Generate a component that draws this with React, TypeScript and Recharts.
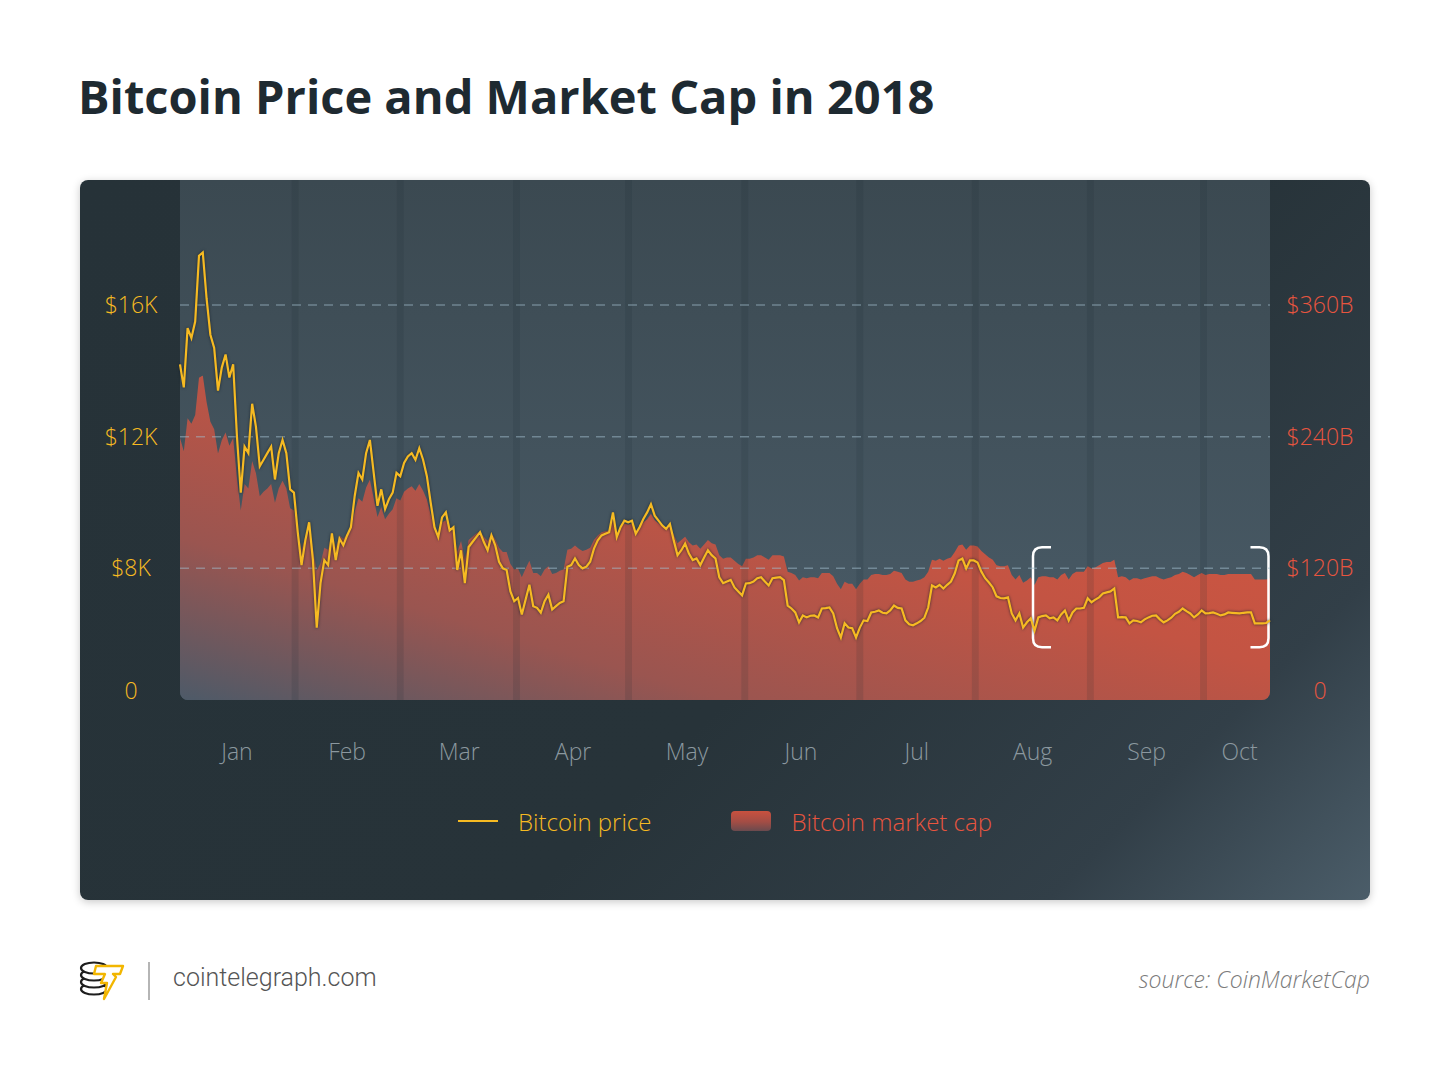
import React from 'react';
import { ComposedChart, Area, Line, XAxis, YAxis, ReferenceLine, ReferenceArea } from 'recharts';

// daily BTC price (USD), 1 Jan – 15 Oct 2018
const price = [
  14200, 13500, 15300, 15000, 15500, 17500, 17600, 16200, 15100, 14700,
  13400, 14100, 14500, 13800, 14200, 12000, 10300, 11700, 11500, 13000,
  12300, 11100, 11300, 11500, 11700, 10700, 11500, 11900, 11500, 10400,
  10300, 9100, 8100, 8850, 9400, 8250, 6200, 7550, 8250, 8100,
  9060, 8250, 8900, 8700, 9000, 9250, 10200, 10900, 10700, 11500,
  11900, 10900, 9900, 10400, 9800, 10100, 10300, 10900, 10800, 11200,
  11400, 11500, 11300, 11650, 11300, 10800, 10000, 9250, 8950, 9550,
  9700, 9150, 9250, 7950, 8550, 7550, 8650, 8800, 8950, 9100,
  8800, 8550, 9000, 8700, 8200, 8000, 7950, 7300, 7000, 7100,
  6600, 7050, 7500, 6850, 6800, 6650, 7000, 7200, 6750, 6850,
  6950, 7000, 8050, 8100, 8300, 8100, 8000, 8050, 8200, 8600,
  8850, 9000, 9050, 9100, 9700, 8950, 9250, 9450, 9400, 9450,
  9050, 9250, 9500, 9700, 9950, 9600, 9450, 9300, 9200, 9350,
  8850, 8400, 8550, 8750, 8450, 8250, 8300, 8100, 8330, 8550,
  8400, 8300, 7730, 7550, 7600, 7650, 7420, 7300, 7180, 7540,
  7550, 7600, 7700, 7730, 7600, 7480, 7700, 7720, 7730, 7640,
  6870, 6780, 6660, 6360, 6570, 6510, 6560, 6570, 6510, 6780,
  6790, 6810, 6630, 6180, 5900, 6330, 6200, 6180, 5900, 6200,
  6420, 6400, 6660, 6680, 6720, 6650, 6630, 6720, 6870, 6800,
  6780, 6420, 6300, 6270, 6330, 6400, 6500, 6810, 7480, 7420,
  7500, 7390, 7500, 7600, 7850, 8240, 8300, 8000, 8240, 8240,
  8180, 7900, 7700, 7570, 7420, 7150, 7100, 7090, 7120, 6630,
  6420, 6630, 6200, 6360, 6480, 6110, 6510, 6550, 6570, 6480,
  6510, 6420, 6600, 6720, 6420, 6660, 6780, 6780, 6800, 7090,
  6970, 7050, 7120, 7240, 7270, 7300, 7390, 6510, 6520, 6510,
  6330, 6420, 6400, 6360, 6450, 6510, 6560, 6570, 6450, 6360,
  6420, 6500, 6620, 6680, 6780, 6700, 6630, 6510, 6600, 6720,
  6630, 6640, 6660, 6620, 6570, 6600, 6660, 6650, 6640, 6630,
  6650, 6660, 6660, 6330, 6330, 6330, 6340, 6420,
];

// market cap, billions USD, same days
const marketCap = [
  239, 227, 257, 252, 260, 294, 296, 272, 254, 247,
  225, 237, 244, 232, 239, 202, 173, 197, 193, 218,
  207, 186, 190, 193, 197, 180, 193, 200, 193, 175,
  173, 154, 137, 149, 159, 138, 118, 125, 139, 137,
  153, 139, 150, 147, 152, 156, 172, 184, 181, 194,
  201, 184, 167, 176, 165, 170, 174, 184, 182, 190,
  193, 195, 191, 197, 191, 183, 169, 157, 152, 162,
  164, 155, 157, 135, 145, 128, 146, 149, 152, 154,
  149, 145, 152, 147, 139, 135, 135, 124, 119, 120,
  112, 120, 127, 116, 116, 113, 119, 122, 115, 116,
  118, 119, 137, 138, 141, 138, 136, 137, 139, 146,
  150, 153, 154, 155, 165, 152, 157, 161, 160, 161,
  154, 158, 162, 165, 170, 164, 161, 159, 157, 159,
  151, 143, 146, 149, 144, 141, 142, 138, 142, 146,
  143, 142, 132, 129, 130, 130, 127, 124, 122, 129,
  129, 130, 132, 132, 130, 128, 132, 132, 132, 131,
  117, 116, 114, 109, 112, 111, 112, 112, 111, 116,
  116, 116, 113, 106, 101, 108, 106, 106, 101, 106,
  110, 110, 114, 115, 115, 114, 114, 115, 118, 117,
  116, 110, 108, 108, 109, 110, 112, 117, 128, 127,
  129, 127, 129, 130, 135, 141, 142, 137, 141, 141,
  140, 136, 133, 130, 128, 123, 122, 122, 123, 114,
  110, 114, 107, 109, 112, 105, 112, 113, 113, 112,
  112, 110, 114, 116, 110, 115, 117, 117, 117, 122,
  120, 121, 123, 125, 126, 126, 128, 112, 113, 112,
  109, 111, 111, 110, 111, 112, 113, 113, 111, 110,
  111, 112, 114, 115, 117, 116, 114, 112, 114, 116,
  114, 115, 115, 115, 114, 114, 115, 115, 115, 115,
  115, 115, 115, 110, 110, 110, 110, 111,
];

const monthLabels = ['Jan', 'Feb', 'Mar', 'Apr', 'May', 'Jun', 'Jul', 'Aug', 'Sep', 'Oct'];
const monthCenters = [15, 44, 73.5, 103.5, 133.5, 163.5, 194, 224.5, 254.5, 279];
const monthEdges = [30.3, 58, 88.6, 118.1, 148.7, 179, 209.4, 239.7, 269.5];

const priceTicks = [4000, 8000, 12000, 16000];
const priceTickLabels = ['0', '$8K', '$12K', '$16K'];
const capTicks = [0, 120, 240, 360];
const capTickLabels = ['0', '$120B', '$240B', '$360B'];
const gridPrices = [8000, 12000, 16000];

const data = price.map((p, i) => ({ day: i, price: p, cap: marketCap[i] }));

const YELLOW = '#f6ba22';
const RED = '#e8553f';
const FONT = '"Open Sans", sans-serif';

const LeftTick = ({ x, y, payload }: any) => {
  const i = priceTicks.indexOf(payload.value);
  return (
    <text x={x} y={y} dy={i === 0 ? -1 : 8} textAnchor="middle" fill={YELLOW}
      fontSize={23} fontWeight={300} fontFamily={FONT}>
      {priceTickLabels[i]}
    </text>
  );
};

const RightTick = ({ x, y, payload }: any) => {
  const i = capTicks.indexOf(payload.value);
  return (
    <text x={x} y={y} dy={i === 0 ? -1 : 8} textAnchor="middle" fill={RED}
      fontSize={23} fontWeight={300} fontFamily={FONT}>
      {capTickLabels[i]}
    </text>
  );
};

const MonthTick = ({ x, y, payload }: any) => {
  const i = monthCenters.indexOf(payload.value);
  return (
    <text x={x} y={y} dy={16} textAnchor="middle" fill="#8b989f"
      fontSize={23} fontWeight={300} fontFamily={FONT}>
      {monthLabels[i]}
    </text>
  );
};

// two rounded white brackets around the aug–oct stretch
const Brackets = ({ x, y, width, height }: any) => {
  const r = 9;
  const arm = 18;
  const left = `M${x + arm},${y} L${x + r},${y} Q${x},${y} ${x},${y + r} L${x},${y + height - r} Q${x},${y + height} ${x + r},${y + height} L${x + arm},${y + height}`;
  const rx = x + width;
  const right = `M${rx - arm},${y} L${rx - r},${y} Q${rx},${y} ${rx},${y + r} L${rx},${y + height - r} Q${rx},${y + height} ${rx - r},${y + height} L${rx - arm},${y + height}`;
  return (
    <g>
      <path d={left} fill="none" stroke="#ffffff" strokeWidth={2.5} />
      <path d={right} fill="none" stroke="#ffffff" strokeWidth={2.5} />
    </g>
  );
};

const Logo = () => (
  <svg width={46} height={42} viewBox="0 0 46 42">
    {[30, 23, 16, 9].map((cy) => (
      <ellipse key={cy} cx={15} cy={cy} rx={13} ry={5.5} fill="#fff" stroke="#1d1d1d" strokeWidth={2.2} />
    ))}
    <path d="M17 7 L44 7 L41 15 L34 15 L37 18 L25 40 L28 24 L22 24 L26 15 L15 15 Z"
      fill="#fff" stroke="#f2b600" strokeWidth={2.4} strokeLinejoin="round" />
  </svg>
);

export default function App() {
  return (
    <div style={{ position: 'absolute', left: 0, top: 0, width: 1450, height: 1080, background: '#fff', fontFamily: FONT }}>
      <style>{`
        .recharts-area, .plot-bg { clip-path: inset(0 round 0 0 8px 8px); }
        .recharts-line-curve { filter: drop-shadow(0 0 1.5px rgba(20,30,40,0.8)); }
      `}</style>
      <div style={{ position: 'absolute', left: 78, top: 73, fontSize: 47, lineHeight: '46px', fontWeight: 700, color: '#1e2a31' }}>
        Bitcoin Price and Market Cap in 2018
      </div>

      <div style={{
        position: 'absolute', left: 80, top: 180, width: 1290, height: 720, borderRadius: 8, overflow: 'hidden',
        background: 'linear-gradient(135deg, #263238 0%, #273339 58%, #323f48 84%, #4b5d69 100%)',
        boxShadow: '0 2px 8px rgba(0,0,0,0.22)',
      }}>
        <ComposedChart width={1290} height={720} data={data} margin={{ top: 0, right: 0, bottom: 140, left: 0 }}>
          <defs>
            <linearGradient id="plotBg" x1="0" y1="0" x2="0" y2="1">
              <stop offset="0%" stopColor="#3b4951" />
              <stop offset="100%" stopColor="#4a5c68" />
            </linearGradient>
            <linearGradient id="capFill" x1="1" y1="0" x2="0" y2="1">
              <stop offset="0%" stopColor="#d8573f" />
              <stop offset="45%" stopColor="#c35443" />
              <stop offset="75%" stopColor="#9a5550" />
              <stop offset="100%" stopColor="#4d5a68" />
            </linearGradient>
          </defs>
          <XAxis dataKey="day" type="number" domain={[0, price.length - 1]} ticks={monthCenters}
            axisLine={false} tickLine={false} tickSize={0} tickMargin={44} height={60} tick={<MonthTick />} interval={0} />
          <YAxis yAxisId="left" orientation="left" domain={[4000, 19800]} ticks={priceTicks} width={100}
            axisLine={false} tickLine={false} tickSize={0} tickMargin={49} tick={<LeftTick />} interval={0} />
          <YAxis yAxisId="right" orientation="right" domain={[0, 474.5]} ticks={capTicks} width={100}
            axisLine={false} tickLine={false} tickSize={0} tickMargin={50} tick={<RightTick />} interval={0} />

          <ReferenceArea yAxisId="left" x1={0} x2={price.length - 1} y1={4000} y2={19800}
            fill="url(#plotBg)" fillOpacity={1} stroke="none" className="plot-bg" />

          <Area yAxisId="right" dataKey="cap" type="linear" stroke="none" fill="url(#capFill)" fillOpacity={1}
            isAnimationActive={false} dot={false} activeDot={false} />

          {monthEdges.map((c) => (
            <ReferenceArea key={c} yAxisId="left" x1={c - 0.9} x2={c + 0.9} y1={4000} y2={19800}
              fill="#1b252b" fillOpacity={0.13} stroke="none" />
          ))}

          {gridPrices.map((v) => (
            <ReferenceLine key={v} yAxisId="left" y={v} stroke="#9fbccb" strokeOpacity={0.5}
              strokeWidth={1.5} strokeDasharray="9 7" />
          ))}

          <Line yAxisId="left" dataKey="price" type="linear" stroke={YELLOW} strokeWidth={2.2}
            dot={false} activeDot={false} isAnimationActive={false} />

          <ReferenceArea yAxisId="left" x1={224.6} x2={286.6} y1={5600} y2={8640}
            shape={<Brackets />} ifOverflow="visible" />
        </ComposedChart>

        <div style={{ position: 'absolute', left: 0, top: 628, width: 1290, height: 26, display: 'flex', alignItems: 'center', justifyContent: 'center', fontSize: 24, fontWeight: 300 }}>
          <div style={{ width: 40, height: 2, background: YELLOW }} />
          <span style={{ color: YELLOW, marginLeft: 20 }}>Bitcoin price</span>
          <div style={{ width: 40, height: 20, borderRadius: 4, marginLeft: 80, background: 'linear-gradient(180deg, #c9513f 0%, #a24d45 55%, #6a4a4e 100%)' }} />
          <span style={{ color: RED, marginLeft: 20 }}>Bitcoin market cap</span>
        </div>
      </div>

      <div style={{ position: 'absolute', left: 79, top: 959 }}><Logo /></div>
      <div style={{ position: 'absolute', left: 148, top: 962, width: 2, height: 38, background: '#b5b5b5' }} />
      <div style={{ position: 'absolute', left: 173, top: 966, fontFamily: 'Roboto, sans-serif', fontSize: 25, lineHeight: '24px', fontWeight: 300, color: '#555' }}>
        cointelegraph.com
      </div>
      <div style={{ position: 'absolute', right: 80, top: 967, fontSize: 23, lineHeight: '24px', fontWeight: 300, fontStyle: 'italic', color: '#7b7b7b' }}>
        source: CoinMarketCap
      </div>
    </div>
  );
}
